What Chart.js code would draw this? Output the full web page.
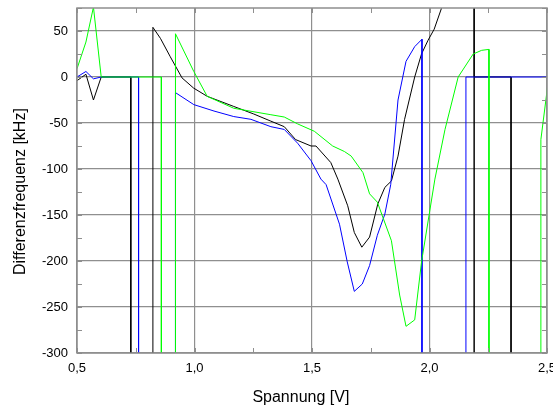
<!DOCTYPE html>
<html>
<head>
<meta charset="utf-8">
<script src="https://cdn.jsdelivr.net/npm/chart.js@4"></script>
<style>
  html, body { margin: 0; padding: 0; background: #fff; }
  #wrap { width: 553px; height: 408px; }
</style>
</head>
<body>
<div id="wrap"><canvas id="freqChart"></canvas></div>
<script>
// Spannung [V] / Differenzfrequenz [kHz]; -400 and 120 mean "off the plot"
const blackX = [0.5, 0.538, 0.57, 0.603, 0.729, 0.729, 0.823, 0.823, 0.855, 0.897, 0.947, 0.996, 1.054, 1.167, 1.25,
  1.325, 1.382, 1.43, 1.496, 1.517, 1.58, 1.61, 1.652, 1.68, 1.712, 1.745, 1.78, 1.81, 1.838, 1.866, 1.894, 1.937,
  1.966, 1.994, 2.02, 2.05, 2.08, 2.19, 2.19, 2.19, 2.347, 2.347, 2.5];
const blackY = [-4, 3, -25, 0, 0, -400, -400, 54, 42, 22, -1, -12, -21, -32, -40,
  -48, -54, -68, -75, -75, -93, -111, -140, -169, -185, -174, -138, -120, -113, -86, -46, 0,
  25, 40, 52, 74, 120, 120, -400, 0, 0, -400, -400];

const blueX = [0.5, 0.538, 0.57, 0.603, 0.762, 0.762, 0.919, 0.919, 0.997, 1.083, 1.167, 1.24, 1.325, 1.382, 1.439,
  1.496, 1.538, 1.56, 1.617, 1.65, 1.68, 1.714, 1.745, 1.778, 1.81, 1.835, 1.866, 1.9, 1.937, 1.968, 1.968,
  2.155, 2.155, 2.5];
const blueY = [0, 6, -2, 0, 0, -400, -400, -17, -30, -37, -43, -46, -54, -57, -72,
  -91, -111, -117, -160, -201, -233, -225, -205, -172, -149, -117, -25, 17, 33, 41, -400,
  -400, 0, 0];

const greenX = [0.5, 0.538, 0.57, 0.603, 0.859, 0.859, 0.919, 0.919, 0.997, 1.054, 1.167, 1.325, 1.382, 1.439, 1.51,
  1.588, 1.638, 1.667, 1.717, 1.745, 1.778, 1.838, 1.873, 1.9, 1.937, 1.966, 2.023, 2.066, 2.122, 2.186, 2.222,
  2.253, 2.253, 2.474, 2.474, 2.51];
const greenY = [9, 38, 76, 0, 0, -400, -400, 47, 6, -21, -34, -41, -43.5, -51, -59,
  -75, -81, -86, -104, -127, -136, -178, -237, -271, -264, -201, -111, -57, 0, 25, 29,
  30, -400, -400, -68, 5];

const xTicks = [0.5, 1.0, 1.5, 2.0, 2.5];
const yTicks = [50, 0, -50, -100, -150, -200, -250, -300];

const frameColor = '#8f8f8f';
const fontFamily = '"Liberation Sans", Arial, sans-serif';

function toPoints(xs, ys) {
  return xs.map((x, i) => ({ x: x, y: ys[i] }));
}

function isLabelled(list, v) {
  return list.some(t => Math.abs(t - v) < 1e-6);
}

function noPadding(scale) {
  scale.paddingLeft = 0;
  scale.paddingRight = 0;
  scale.paddingTop = 0;
  scale.paddingBottom = 0;
}

const innerTicks = {
  id: 'innerTicks',
  afterDatasetsDraw(chart) {
    const { ctx, chartArea: a, scales } = chart;
    ctx.save();
    ctx.strokeStyle = frameColor;
    ctx.lineWidth = 1;
    ctx.beginPath();
    scales.x.ticks.forEach(t => {
      const px = Math.round(scales.x.getPixelForValue(t.value)) + 0.5;
      ctx.moveTo(px, a.bottom); ctx.lineTo(px, a.bottom - 5);
      ctx.moveTo(px, a.top); ctx.lineTo(px, a.top + 5);
    });
    scales.y.ticks.forEach(t => {
      const py = Math.round(scales.y.getPixelForValue(t.value)) + 0.5;
      ctx.moveTo(a.left, py); ctx.lineTo(a.left + 5, py);
      ctx.moveTo(a.right, py); ctx.lineTo(a.right - 5, py);
    });
    ctx.stroke();
    ctx.lineWidth = 1.5;
    ctx.strokeRect(a.left, a.top, a.right - a.left, a.bottom - a.top);
    ctx.restore();
  }
};

const lineStyle = { borderWidth: 1, pointRadius: 0, tension: 0, fill: false };

new Chart(document.getElementById('freqChart'), {
  type: 'line',
  data: {
    datasets: [
      Object.assign({ label: 'grün', data: toPoints(greenX, greenY), borderColor: '#00ff00' }, lineStyle),
      Object.assign({ label: 'blau', data: toPoints(blueX, blueY), borderColor: '#0000ff' }, lineStyle),
      Object.assign({ label: 'schwarz', data: toPoints(blackX, blackY), borderColor: '#000000' }, lineStyle)
    ]
  },
  options: {
    responsive: true,
    maintainAspectRatio: false,
    animation: false,
    layout: { autoPadding: false, padding: { top: 8, right: 6, left: 0, bottom: 0 } },
    plugins: { legend: { display: false }, tooltip: { enabled: false } },
    scales: {
      x: {
        type: 'linear',
        min: 0.5,
        max: 2.5,
        afterFit(scale) { scale.height = 55; noPadding(scale); },
        grid: {
          drawTicks: false,
          lineWidth: 1.2,
          color: c => isLabelled(xTicks, c.tick.value) ? frameColor : 'rgba(0,0,0,0)'
        },
        border: { display: false },
        ticks: {
          stepSize: 0.25,
          autoSkip: false,
          maxRotation: 0,
          padding: 8,
          color: '#000',
          font: { family: fontFamily, size: 13 },
          callback: v => isLabelled(xTicks, v) ? v.toFixed(1).replace('.', ',') : ''
        },
        title: {
          display: true,
          text: 'Spannung [V]     ',
          color: '#000',
          font: { family: fontFamily, size: 16 },
          padding: { top: 0, bottom: 1 }
        }
      },
      y: {
        min: -300,
        max: 75,
        afterFit(scale) { scale.width = 77; noPadding(scale); },
        grid: {
          drawTicks: false,
          lineWidth: 1.2,
          color: c => isLabelled(yTicks, c.tick.value) ? frameColor : 'rgba(0,0,0,0)'
        },
        border: { display: false },
        ticks: {
          stepSize: 25,
          autoSkip: false,
          padding: 9,
          color: '#000',
          font: { family: fontFamily, size: 13 },
          callback: v => isLabelled(yTicks, v) ? String(v) : ''
        },
        title: {
          display: true,
          text: 'Differenzfrequenz [kHz]     ',
          color: '#000',
          font: { family: fontFamily, size: 16 },
          padding: { top: 11, bottom: 0 }
        }
      }
    }
  },
  plugins: [innerTicks]
});
</script>
</body>
</html>
